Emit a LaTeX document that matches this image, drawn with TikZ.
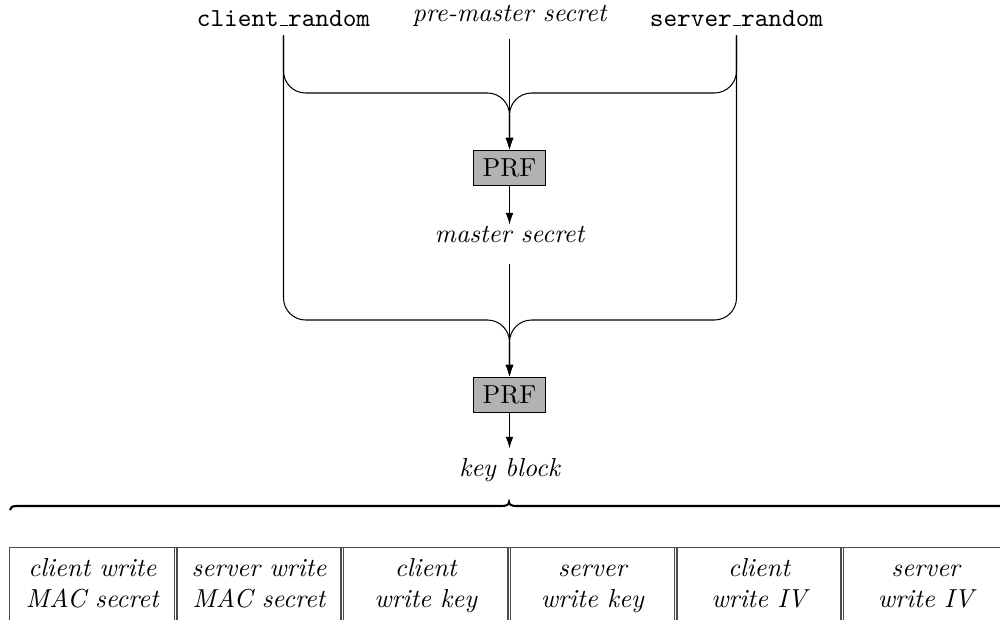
\documentclass[tikz,border=0pt]{standalone}
\usetikzlibrary{arrows.meta}
\newcommand{\lowbar}{\leavevmode\kern.06em\vbox{\hrule width.3em}}
\begin{document}
\begin{tikzpicture}[x=0.3846pt, y=-0.3846pt,
  arr/.style={-{Latex[length=4.5pt,width=3pt]}, line width=0.4pt},
  lbl/.style={inner sep=0pt, anchor=base},
  prf/.style={draw, fill=black!30, minimum width=28pt, minimum height=13.8pt, inner sep=0pt},
  cell/.style={align=center, font=\itshape, inner sep=0pt},
  tab/.style={line width=0.55pt, draw=black!70},
  brace/.style={line width=0.8pt}]
\useasboundingbox (0,0) rectangle (1000,619);

% inputs
\node[lbl, text depth=3.4pt] (cr) at (283.5,26) {\texttt{client\lowbar random}};
\node[lbl, text depth=6.7pt, font=\itshape] (pms) at (509.5,21) {pre-master secret};
\node[lbl, text depth=3.4pt] (sr) at (736.5,26) {\texttt{server\lowbar random}};

\node[prf] (prf1) at (509.5,168) {PRF};
\node[lbl, text height=6.5pt, text depth=8.1pt, font=\itshape] (ms) at (509.5,242) {master secret};
\node[prf] (prf2) at (509.5,395) {PRF};
\node[lbl, text height=10.4pt, font=\itshape] (kb) at (509.5,476) {key block};

\coordinate (j1) at (509.5,93);
\coordinate (j2) at (509.5,320);

% first PRF
\draw[arr, rounded corners=8.5pt] (cr.south) |- (j1) -- (prf1.north);
\draw[arr, rounded corners=8.5pt] (sr.south) |- (j1) -- (prf1.north);
\draw[arr] (pms.south) -- (prf1.north);
\draw[arr] (prf1.south) -- (ms.north);

% second PRF
\draw[arr, rounded corners=8.5pt] (cr.south) |- (j2) -- (prf2.north);
\draw[arr, rounded corners=8.5pt] (sr.south) |- (j2) -- (prf2.north);
\draw[arr] (ms.south) -- (prf2.north);
\draw[arr] (prf2.south) -- (kb.north);

% brace over the key block
\draw[brace] (10,510) .. controls (10,507.5) and (12,506) .. (17,506)
  -- (501,506) .. controls (506,506) and (509,505) .. (509,502)
  .. controls (509,505) and (512,506) .. (517,506)
  -- (1001,506) .. controls (1006,506) and (1008,507.5) .. (1008,510);

% table
\draw[tab] (9,547.5) -- (1009,547.5);
\draw[tab] (9.5,547) -- (9.5,640);
\foreach \b in {176,342.5,509.5,676,842.5}{
  \draw[tab] (\b-1.5,547) -- (\b-1.5,640);
  \draw[tab] (\b+1,547) -- (\b+1,640);
}
\draw[tab] (1009,547) -- (1009,640);

\node[cell] (c1) at (92.3,586) {\strut client write\\\strut MAC secret};
\node[cell] (c2) at (259,586) {\strut server write\\\strut MAC secret};
\node[cell] (c3) at (425.7,586) {\strut client\\\strut write key};
\node[cell] (c4) at (592.3,586) {\strut server\\\strut write key};
\node[cell] (c5) at (759,586) {\strut client\\\strut write IV};
\node[cell] (c6) at (925.7,586) {\strut server\\\strut write IV};
\end{tikzpicture}
\end{document}
